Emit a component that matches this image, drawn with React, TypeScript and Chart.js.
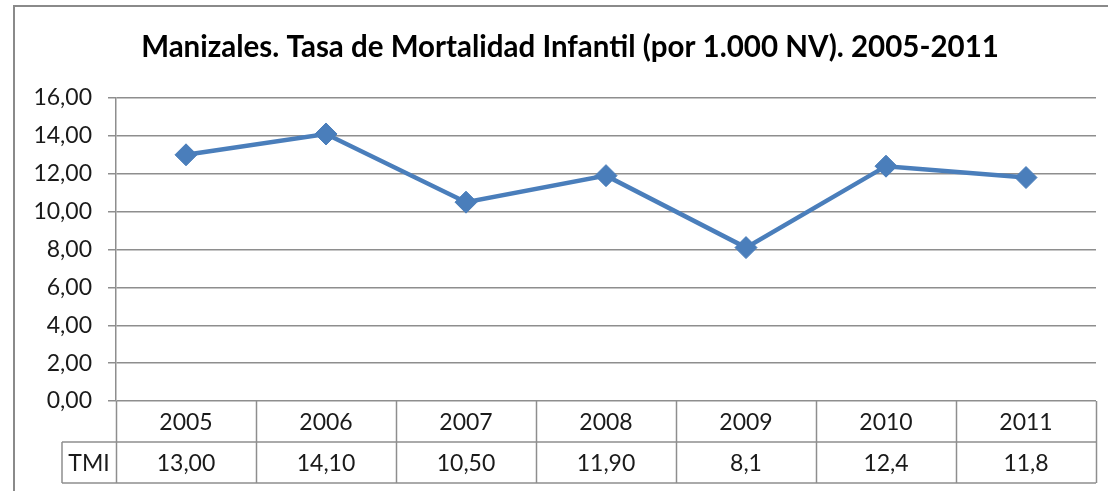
import React, { useEffect, useRef } from "react";
import { Chart, registerables } from "chart.js";

Chart.register(...registerables);

const TITLE = "Manizales. Tasa de Mortalidad Infantil (por 1.000 NV). 2005-2011";
const YEARS = ["2005", "2006", "2007", "2008", "2009", "2010", "2011"];
const TMI_VALUES = [13.0, 14.1, 10.5, 11.9, 8.1, 12.4, 11.8];
const TMI_LABELS = ["13,00", "14,10", "10,50", "11,90", "8,1", "12,4", "11,8"];
const SERIES_NAME = "TMI";
const Y_MIN = 0;
const Y_MAX = 16;
const Y_STEP = 2;

const FONT = "Lato, 'Open Sans', sans-serif";
const GRID = "#8e8e8e";
const TEXT = "#1a1a1a";
const ROW_H = 41;
const LABEL_CELL_LEFT = 62;

const tablePlugin = {
  id: "excelTable",
  beforeDraw(chart: any) {
    const ctx = chart.ctx;
    ctx.save();
    ctx.fillStyle = "#ffffff";
    ctx.fillRect(0, 0, chart.width, chart.height);
    // outer chart border
    ctx.strokeStyle = "#8a8a8a";
    ctx.lineWidth = 2;
    ctx.strokeRect(14, 6, chart.width + 20, chart.height + 20);
    // title
    ctx.fillStyle = "#000";
    ctx.font = `bold 29.5px ${FONT}`;
    ctx.textAlign = "center";
    ctx.textBaseline = "alphabetic";
    ctx.fillText(TITLE, 570, 57);
    ctx.restore();
  },
  afterDraw(chart: any) {
    const ctx = chart.ctx;
    const area = chart.chartArea;
    const x = chart.scales.x;
    const n = YEARS.length;
    const left = area.left;
    const right = area.right;
    const top = area.bottom;
    const mid = top + ROW_H;
    const bottom = mid + ROW_H;
    const colW = (right - left) / n;
    ctx.save();
    ctx.strokeStyle = GRID;
    ctx.lineWidth = 1.5;
    ctx.beginPath();
    for (let i = 0; i <= n; i++) {
      const bx = Math.round(left + i * colW) + 0.5;
      ctx.moveTo(bx, top);
      ctx.lineTo(bx, bottom);
    }
    ctx.moveTo(LABEL_CELL_LEFT, mid);
    ctx.lineTo(right, mid);
    ctx.moveTo(LABEL_CELL_LEFT, bottom);
    ctx.lineTo(right, bottom);
    ctx.moveTo(LABEL_CELL_LEFT, mid);
    ctx.lineTo(LABEL_CELL_LEFT, bottom);
    ctx.stroke();

    ctx.fillStyle = TEXT;
    ctx.font = `23px ${FONT}`;
    ctx.textAlign = "center";
    ctx.textBaseline = "middle";
    for (let i = 0; i < n; i++) {
      const cx = x.getPixelForValue(i);
      ctx.fillText(YEARS[i], cx, top + ROW_H / 2 + 1);
      ctx.fillText(TMI_LABELS[i], cx, mid + ROW_H / 2 + 1);
    }
    ctx.fillText(SERIES_NAME, (LABEL_CELL_LEFT + left) / 2, mid + ROW_H / 2 + 1);
    ctx.restore();
  },
};

export default function App() {
  const ref = useRef<HTMLCanvasElement | null>(null);

  useEffect(() => {
    document.body.style.margin = "0";
    const canvas = ref.current;
    if (!canvas) return;
    const chart = new Chart(canvas, {
      type: "line",
      data: {
        labels: YEARS,
        datasets: [
          {
            label: SERIES_NAME,
            data: TMI_VALUES,
            borderColor: "#4a7ebb",
            backgroundColor: "#4a7ebb",
            borderWidth: 4.5,
            pointStyle: "rectRot",
            pointRadius: 11,
            pointBorderWidth: 1,
            pointBorderColor: "#4a7ebb",
            pointBackgroundColor: "#4a7ebb",
            tension: 0,
          },
        ],
      },
      options: {
        animation: false,
        responsive: false,
        maintainAspectRatio: false,
        layout: { padding: { left: 0, right: 10, top: 98, bottom: 90 } },
        plugins: {
          legend: { display: false },
          title: { display: false },
          tooltip: { enabled: false },
        },
        scales: {
          x: {
            type: "category",
            display: false,
            offset: true,
          },
          y: {
            min: Y_MIN,
            max: Y_MAX,
            afterFit(scale: any) {
              scale.width = 116;
            },
            ticks: {
              stepSize: Y_STEP,
              padding: 16,
              color: TEXT,
              font: { family: FONT, size: 23 },
              callback: (v: any) => Number(v).toFixed(2).replace(".", ","),
            },
            grid: {
              color: GRID,
              lineWidth: 1.5,
              tickLength: 8,
              drawTicks: true,
            },
            border: { display: true, color: GRID, width: 1.5 },
          },
        },
      },
      plugins: [tablePlugin],
    });
    return () => chart.destroy();
  }, []);

  return (
    <div style={{ width: 1108, height: 491, position: "relative" }}>
      <canvas ref={ref} width={1108} height={491} style={{ display: "block" }} />
    </div>
  );
}
